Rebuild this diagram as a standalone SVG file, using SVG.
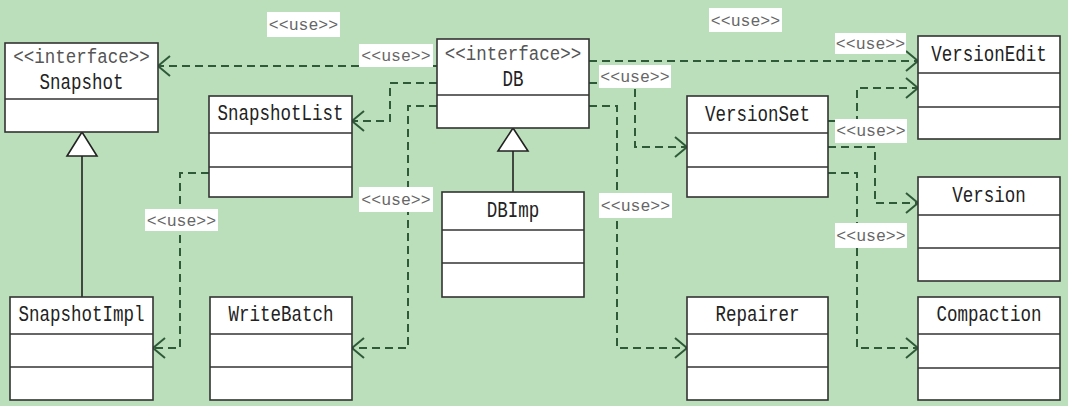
<svg xmlns="http://www.w3.org/2000/svg" width="1068" height="406" viewBox="0 0 1068 406">
<defs>
<style>
.box{fill:#fff;stroke:#333;stroke-width:1.6}
.div{stroke:#333;stroke-width:1.6}
.t{font-family:"Liberation Mono","DejaVu Sans Mono",monospace;font-size:17.5px;fill:#222;text-anchor:middle}
.st{font-family:"Liberation Mono","DejaVu Sans Mono",monospace;font-size:17.5px;fill:#555;text-anchor:middle}
.dep{fill:none;stroke:#2f5a38;stroke-width:2;stroke-dasharray:8 5;marker-end:url(#open)}
.lbl rect{fill:#fff}
.lbl text{font-family:"Liberation Mono","DejaVu Sans Mono",monospace;font-size:16.5px;fill:#666;text-anchor:middle}
.gen{fill:none;stroke:#222;stroke-width:1.6}
.tri{fill:#fff;stroke:#222;stroke-width:1.6}
</style>
<marker id="open" markerUnits="userSpaceOnUse" markerWidth="16" markerHeight="24" viewBox="0 0 16 24" refX="14" refY="12" orient="auto">
<path d="M2,2 L14,12 L2,22" fill="none" stroke="#2f5a38" stroke-width="2"/>
</marker>
</defs>
<rect x="0" y="0" width="1068" height="406" fill="#bbdebb"/>

<g id="connectors">
<path class="dep" d="M437,66 H158"/>
<path class="dep" d="M437,83 H390 V121 H352"/>
<path class="dep" d="M437,106 H408 V348 H352"/>
<path class="dep" d="M209,173 H180 V348 H153"/>
<path class="dep" d="M589,106 H617 V348 H687"/>
<path class="dep" d="M589,83 H635 V147 H687"/>
<path class="dep" d="M589,61 H918"/>
<path class="dep" d="M828,121 H857 V88 H918"/>
<path class="dep" d="M828,147 H875 V203 H918"/>
<path class="dep" d="M828,173 H857 V348 H918"/>
<path class="gen" d="M82,156 V297"/>
<polygon class="tri" points="82,132 67,156 97,156"/>
<path class="gen" d="M513,151 V192"/>
<polygon class="tri" points="513,128 498,151 528,151"/>
</g>

<g id="labels">
<g class="lbl"><rect x="267" y="12" width="73" height="25"/><text x="303.5" y="30">&lt;&lt;use&gt;&gt;</text></g>
<g class="lbl"><rect x="359" y="44" width="74" height="23"/><text x="396" y="61">&lt;&lt;use&gt;&gt;</text></g>
<g class="lbl"><rect x="359" y="187" width="74" height="25"/><text x="396" y="205">&lt;&lt;use&gt;&gt;</text></g>
<g class="lbl"><rect x="145" y="209" width="73" height="22"/><text x="181.5" y="226">&lt;&lt;use&gt;&gt;</text></g>
<g class="lbl"><rect x="599" y="193" width="73" height="25"/><text x="635.5" y="211">&lt;&lt;use&gt;&gt;</text></g>
<g class="lbl"><rect x="599" y="65" width="72" height="23"/><text x="635" y="82">&lt;&lt;use&gt;&gt;</text></g>
<g class="lbl"><rect x="709" y="8" width="73" height="24"/><text x="745.5" y="26">&lt;&lt;use&gt;&gt;</text></g>
<g class="lbl"><rect x="835" y="33" width="71" height="21"/><text x="870.5" y="49">&lt;&lt;use&gt;&gt;</text></g>
<g class="lbl"><rect x="835" y="119" width="72" height="24"/><text x="871" y="136">&lt;&lt;use&gt;&gt;</text></g>
<g class="lbl"><rect x="835" y="223" width="72" height="25"/><text x="871" y="241">&lt;&lt;use&gt;&gt;</text></g>
</g>

<g id="Snapshot">
<rect class="box" x="5" y="43" width="153" height="89"/>
<line class="div" x1="5" y1="99" x2="158" y2="99"/>
<text class="st" transform="translate(81.5,63) scale(1,1.2)">&lt;&lt;interface&gt;&gt;</text>
<text class="t" transform="translate(81.5,89) scale(1,1.25)">Snapshot</text>
</g>

<g id="SnapshotList">
<rect class="box" x="209" y="96" width="143" height="101"/>
<line class="div" x1="209" y1="133" x2="352" y2="133"/>
<line class="div" x1="209" y1="167" x2="352" y2="167"/>
<text class="t" transform="translate(280.5,120) scale(1,1.25)">SnapshotList</text>
</g>

<g id="SnapshotImpl">
<rect class="box" x="10" y="297" width="143" height="103"/>
<line class="div" x1="10" y1="334" x2="153" y2="334"/>
<line class="div" x1="10" y1="367" x2="153" y2="367"/>
<text class="t" transform="translate(81.5,321) scale(1,1.25)">SnapshotImpl</text>
</g>

<g id="WriteBatch">
<rect class="box" x="210" y="297" width="142" height="103"/>
<line class="div" x1="210" y1="334" x2="352" y2="334"/>
<line class="div" x1="210" y1="367" x2="352" y2="367"/>
<text class="t" transform="translate(281,321) scale(1,1.25)">WriteBatch</text>
</g>

<g id="DB">
<rect class="box" x="437" y="39" width="152" height="89"/>
<line class="div" x1="437" y1="95" x2="589" y2="95"/>
<text class="st" transform="translate(513,60) scale(1,1.2)">&lt;&lt;interface&gt;&gt;</text>
<text class="t" transform="translate(513,86) scale(1,1.25)">DB</text>
</g>

<g id="DBImp">
<rect class="box" x="442" y="192" width="142" height="105"/>
<line class="div" x1="442" y1="230" x2="584" y2="230"/>
<line class="div" x1="442" y1="263" x2="584" y2="263"/>
<text class="t" transform="translate(513,217) scale(1,1.25)">DBImp</text>
</g>

<g id="VersionSet">
<rect class="box" x="687" y="96" width="141" height="101"/>
<line class="div" x1="687" y1="133" x2="828" y2="133"/>
<line class="div" x1="687" y1="167" x2="828" y2="167"/>
<text class="t" transform="translate(757.5,121) scale(1,1.25)">VersionSet</text>
</g>

<g id="Repairer">
<rect class="box" x="687" y="297" width="141" height="103"/>
<line class="div" x1="687" y1="334" x2="828" y2="334"/>
<line class="div" x1="687" y1="367" x2="828" y2="367"/>
<text class="t" transform="translate(757.5,321) scale(1,1.25)">Repairer</text>
</g>

<g id="VersionEdit">
<rect class="box" x="918" y="36" width="142" height="103"/>
<line class="div" x1="918" y1="73" x2="1060" y2="73"/>
<line class="div" x1="918" y1="107" x2="1060" y2="107"/>
<text class="t" transform="translate(989,61) scale(1,1.25)">VersionEdit</text>
</g>

<g id="Version">
<rect class="box" x="918" y="177" width="142" height="104"/>
<line class="div" x1="918" y1="215" x2="1060" y2="215"/>
<line class="div" x1="918" y1="248" x2="1060" y2="248"/>
<text class="t" transform="translate(989,202) scale(1,1.25)">Version</text>
</g>

<g id="Compaction">
<rect class="box" x="918" y="297" width="142" height="103"/>
<line class="div" x1="918" y1="334" x2="1060" y2="334"/>
<line class="div" x1="918" y1="368" x2="1060" y2="368"/>
<text class="t" transform="translate(989,321) scale(1,1.25)">Compaction</text>
</g>
</svg>
